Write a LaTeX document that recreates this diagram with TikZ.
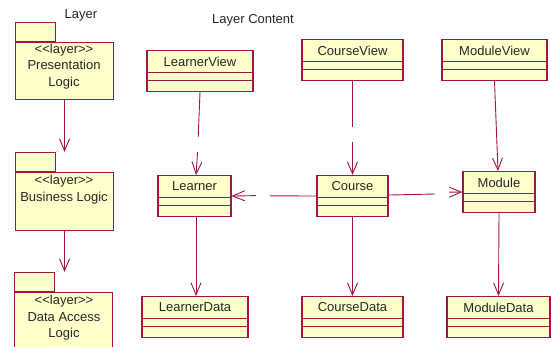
\documentclass[tikz,border=0pt]{standalone}
\usepackage{fontspec}
\setmainfont{Liberation Sans}
\usetikzlibrary{arrows.meta}
\definecolor{umlline}{RGB}{160,20,70}
\definecolor{umlfill}{RGB}{255,255,204}
\tikzset{
  umlbox/.style={draw=umlline, fill=umlfill, line width=1.1pt, inner sep=0pt},
  divider/.style={draw=umlline, line width=0.8pt},
  lbl/.style={font=\fontsize{13}{16.5}\selectfont, inner sep=0pt, align=center, text=black!85},
  link/.style={draw=umlline, line width=0.9pt},
  dep/.style={link, -{Straight Barb[length=12pt,width=10pt,line width=0.9pt]}},
}
% class box: id, centre x, top y, width, name
\newcommand{\umlclass}[5]{%
  \node[umlbox, minimum width=#4pt, minimum height=41pt, anchor=north] (#1) at (#2,#3) {};
  \node[lbl] (#1-name) at (#2,#3+11.5) {#5};
  \draw[divider] (#2-#4/2,#3+22.5) -- (#2+#4/2,#3+22.5);
  \draw[divider] (#2-#4/2,#3+30.5) -- (#2+#4/2,#3+30.5);
}
% package: id, left x, body top y, body height
\newcommand{\umlpkg}[4]{%
  \node[umlbox, minimum width=98pt, minimum height=#4pt, anchor=north west] (#1) at (#2,#3) {};
  \node[umlbox, minimum width=40pt, minimum height=19pt, anchor=south west] (#1-tab) at (#1.north west) {};
}
\begin{document}
\begin{tikzpicture}[x=1pt,y=-1pt]
\useasboundingbox (0,0) rectangle (551,347);
\clip (0,0) rectangle (551,347);

% headings
\node[lbl] (layerhead) at (81,15) {Layer};
\node[lbl] (contenthead) at (253,20) {Layer Content};

% layer packages
\umlpkg{pres}{15}{42}{57}
\node[lbl] (pres-text) at (64,66.5) {{<}{<}layer{>}{>}\\Presentation\\Logic};
\umlpkg{bus}{15}{172}{58}
\node[lbl] (bus-text) at (64,189.5) {{<}{<}layer{>}{>}\\Business Logic};
\umlpkg{data}{14}{292}{70}
\node[lbl] (data-text) at (64,318) {{<}{<}layer{>}{>}\\Data Access\\Logic};

\draw[dep] (pres.south) -- (pres.south |- bus-tab.north);
\draw[dep] (bus.south) -- (bus.south |- data-tab.north);

% view classes
\umlclass{lview}{200}{50}{106}{LearnerView}
\umlclass{cview}{352.5}{39}{101}{CourseView}
\umlclass{mview}{494.5}{39}{105}{ModuleView}

% domain classes
\umlclass{learner}{194.5}{175}{73}{Learner}
\umlclass{course}{352.5}{175}{71}{Course}
\umlclass{module}{499}{171}{72}{Module}

% data classes
\umlclass{ldata}{195}{296}{106}{LearnerData}
\umlclass{cdata}{352.5}{296}{101}{CourseData}
\umlclass{mdata}{498.5}{296}{103}{ModuleData}

% view -> domain
\coordinate (g1a) at (198.2,137);
\coordinate (g1b) at (197.6,152);
\draw[link] (lview.south) -- (g1a);
\draw[dep] (g1b) -- ([xshift=1.5pt]learner.north);

\coordinate (g4a) at (352.5,127);
\coordinate (g4b) at (352.5,142);
\draw[link] (cview.south) -- (g4a);
\draw[dep] (g4b) -- (course.north);

\draw[dep] (mview.south) -- ([xshift=-1pt]module.north);

% course -> learner, course -> module
\coordinate (g2a) at (270,195.8);
\coordinate (g2b) at (256,195.6);
\draw[link] (course.west) -- (g2a);
\draw[dep] (g2b) -- (learner.east);

\coordinate (g3a) at (435,194);
\coordinate (g3b) at (449,192.2);
\draw[link] ([yshift=1pt]course.east) -- (g3a);
\draw[dep] (g3b) -- (module.west);

% domain -> data
\draw[dep] ([xshift=1.5pt]learner.south) -- ([xshift=1pt]ldata.north);
\draw[dep] (course.south) -- (cdata.north);
\draw[dep] (module.south) -- (mdata.north);
\end{tikzpicture}
\end{document}
